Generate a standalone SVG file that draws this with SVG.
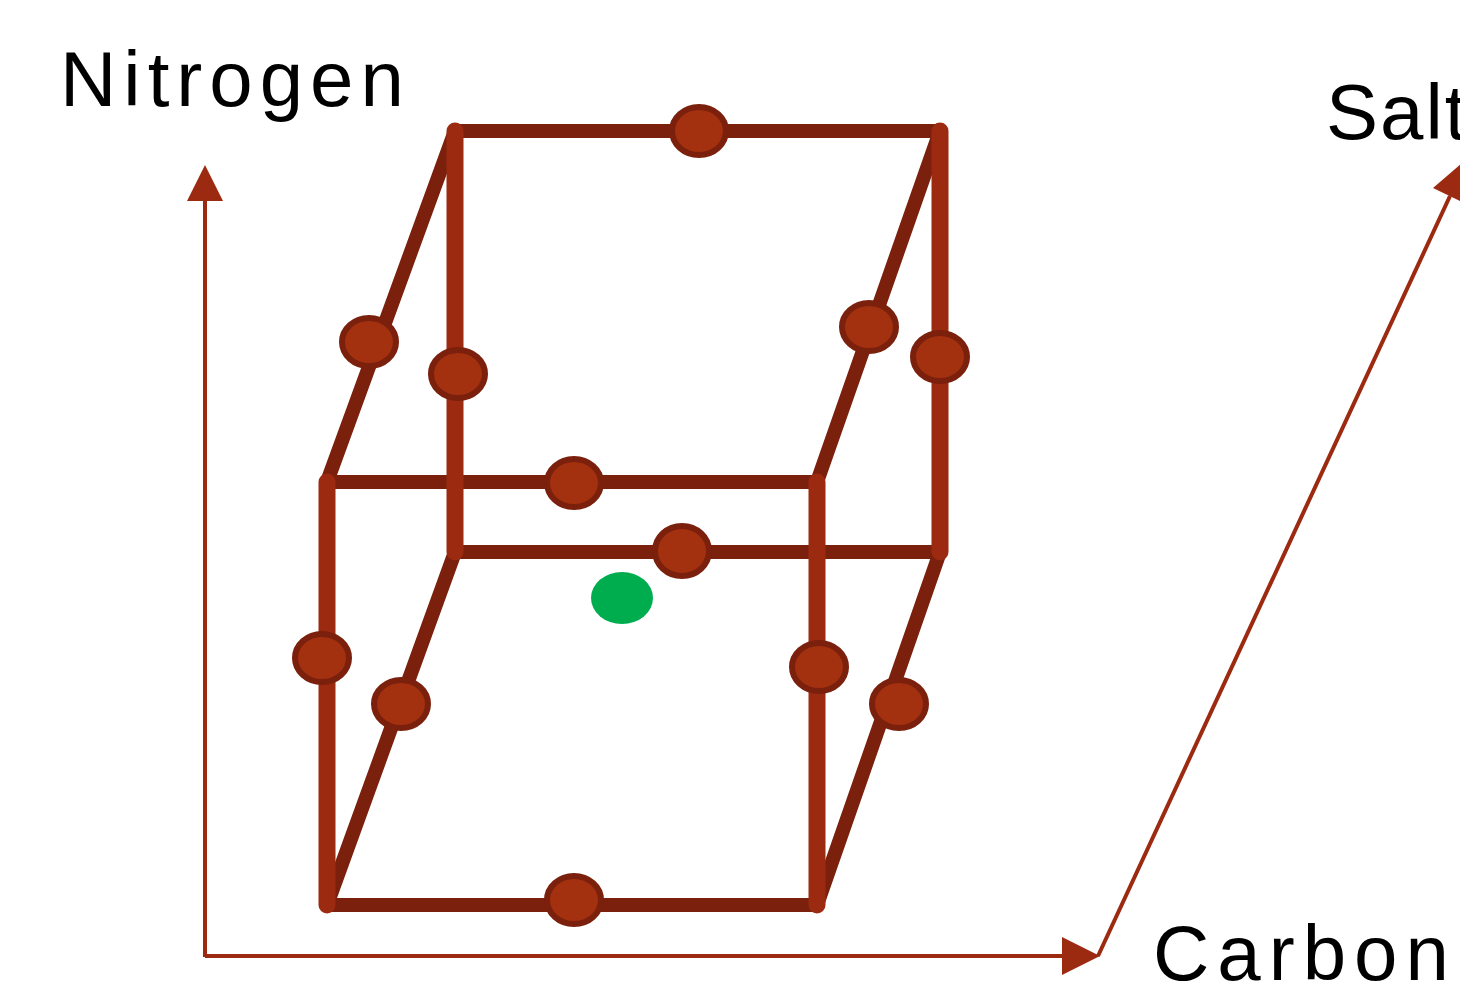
<svg xmlns="http://www.w3.org/2000/svg" width="1460" height="988" viewBox="0 0 1460 988">
<defs>
<style>
.v{stroke:#9C2A10;stroke-width:17;stroke-linecap:round;fill:none}
.h{stroke:#7A200C;stroke-width:14;stroke-linecap:round;fill:none}
.ax{stroke:#9C2A10;stroke-width:4;fill:none}
.dot{fill:#A3300F;stroke:#7A200C;stroke-width:6}
.lbl{font-family:"Liberation Sans",Arial,sans-serif;font-size:78px;fill:#000;letter-spacing:7px}
</style>
</defs>
<rect width="1460" height="988" fill="#fff"/>
<g id="connectors">
<path class="ax" d="M205,957 L205,200"/>
<path d="M205,165 L187,201 L223,201 Z" fill="#9C2A10"/>
<path class="ax" d="M205,956 L1065,956"/>
<path d="M1100,956 L1062,937 L1062,975 Z" fill="#9C2A10"/>
<path class="ax" d="M1098,956 L1450,196"/>
<path d="M1468,158 L1433,188 L1468,205 Z" fill="#9C2A10"/>
</g>
<g id="cube">
<path class="h" d="M455,131 L940,131"/>
<path class="h" d="M455,131 L327,482"/>
<path class="h" d="M940,131 L817,482"/>
<path class="h" d="M327,482 L817,482"/>
<path class="h" d="M455,552 L940,552"/>
<path class="h" d="M455,552 L327,905"/>
<path class="h" d="M940,552 L817,905"/>
<path class="h" d="M327,905 L817,905"/>
<path class="v" d="M455,131 L455,552"/>
<path class="v" d="M940,131 L940,552"/>
<path class="v" d="M327,482 L327,905"/>
<path class="v" d="M817,482 L817,905"/>
</g>
<g id="dots">
<ellipse class="dot" cx="699" cy="131" rx="27" ry="24"/>
<ellipse class="dot" cx="369" cy="342" rx="27" ry="24"/>
<ellipse class="dot" cx="458" cy="374" rx="27" ry="24"/>
<ellipse class="dot" cx="869" cy="327" rx="27" ry="24"/>
<ellipse class="dot" cx="940" cy="357" rx="27" ry="24"/>
<ellipse class="dot" cx="574" cy="483" rx="27" ry="24"/>
<ellipse class="dot" cx="682" cy="551" rx="27" ry="25"/>
<ellipse class="dot" cx="322" cy="658" rx="27" ry="24"/>
<ellipse class="dot" cx="401" cy="704" rx="27" ry="24"/>
<ellipse class="dot" cx="819" cy="667" rx="27" ry="24"/>
<ellipse class="dot" cx="899" cy="704" rx="27" ry="24"/>
<ellipse class="dot" cx="574" cy="900" rx="27" ry="24"/>
</g>
<g id="green-point">
<ellipse cx="622" cy="598" rx="31" ry="26" fill="#00AD4E"/>
</g>
<g id="labels">
<text class="lbl" x="60" y="106">Nitrogen</text>
<text class="lbl" x="1326" y="139" style="letter-spacing:2px">Salt</text>
<text class="lbl" x="1153" y="980" style="letter-spacing:8px">Carbon</text>
</g>
</svg>
